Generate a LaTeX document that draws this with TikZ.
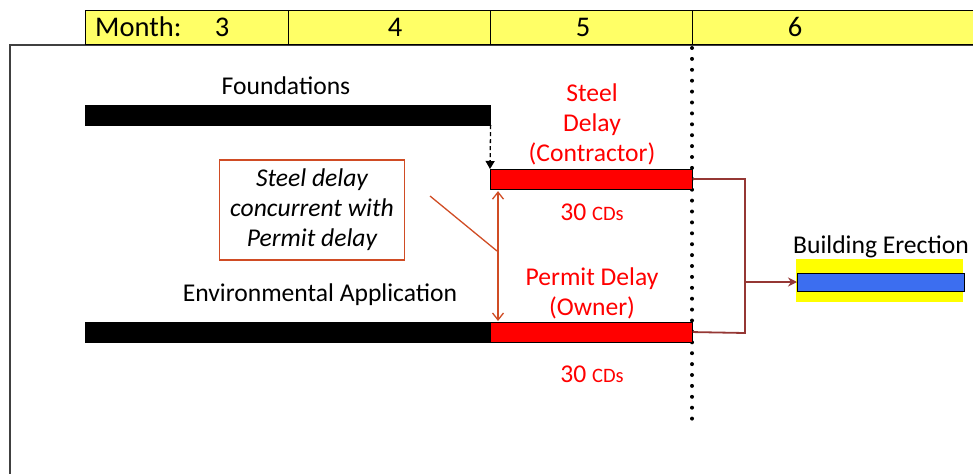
\documentclass[tikz,border=0pt]{standalone}
\usepackage{fontspec}
\setmainfont{Carlito}
\usetikzlibrary{arrows.meta}
\definecolor{hdr}{RGB}{255,255,102}
\definecolor{callc}{RGB}{208,76,36}
\definecolor{connc}{RGB}{149,55,52}
\definecolor{barblue}{RGB}{60,110,240}
\definecolor{ylw}{RGB}{255,255,0}
\begin{document}
\begin{tikzpicture}[x=1pt,y=-1pt,
  bar/.style={draw=black, line width=0.6pt, inner sep=0pt, anchor=north west, minimum height=19.5pt},
  blk/.style={bar, fill=black},
  redbar/.style={bar, fill=red},
  lbl/.style={font=\fontsize{25.6}{30}\selectfont, inner sep=0pt, align=center},
  redlbl/.style={lbl, text=red},
  hdrtxt/.style={font=\fontsize{28.5}{30}\selectfont, inner sep=0pt},
  conn/.style={draw=connc, line width=1.8pt},
  callline/.style={draw=callc, line width=1.3pt}]
\useasboundingbox (0,0) rectangle (973,474);
% frame
\draw[line width=1.4pt, draw=black!75] (973,45) -- (10,45) -- (10,474);
% header
\fill[hdr] (85,10) rectangle (973,44);
\draw[line width=0.9pt] (973,10) -- (85,10) -- (85,44) -- (973,44);
\draw[line width=0.9pt] (288,10) -- (288,44) (490,10) -- (490,44) (692,10) -- (692,44);
\node[hdrtxt, anchor=west] (hm) at (95,27) {Month:};
\node[hdrtxt] (h3) at (222,27) {3};
\node[hdrtxt] (h4) at (395,27) {4};
\node[hdrtxt] (h5) at (583,27) {5};
\node[hdrtxt] (h6) at (795,27) {6};
% dotted line
\coordinate (dtop) at (692,48);
\coordinate (dbot) at (692,420);
\draw[line width=4pt, line cap=round, dash pattern=on 0pt off 10.9pt] (dtop) -- (dbot);
% bars
\node[blk, minimum width=405pt] (fnd) at (85,105) {};
\node[redbar, minimum width=202pt] (steel) at (490,169) {};
\node[blk, minimum width=405pt] (env) at (85,322) {};
\node[redbar, minimum width=202pt] (permit) at (490,322) {};
% labels
\node[lbl] (lfnd) at (286,86) {Foundations};
\node[lbl] (lenv) at (320,295) {Environmental Application};
\node[redlbl] (lsteel) at (592,124) {Steel\\Delay\\(Contractor)};
\node[redlbl] (lcd1) at (592,212) {30 {\fontsize{20.5}{22}\selectfont CDs}};
\node[redlbl] (lperm) at (592,293) {Permit Delay\\(Owner)};
\node[redlbl] (lcd2) at (592,374) {30 {\fontsize{20.5}{22}\selectfont CDs}};
% dashed arrow
\draw[line width=1.3pt, dash pattern=on 4pt off 3pt, -{Triangle[length=8pt,width=9pt]}] (fnd.south east) -- (steel.north west);
% callout
\node[draw=callc, line width=1.3pt, minimum width=185pt, minimum height=100pt, inner sep=0pt,
      font=\fontsize{25.6}{30}\selectfont\itshape, align=center] (call) at (312,210)
      {Steel delay\\concurrent with\\Permit delay};
\coordinate (ptrA) at (430,196);
\coordinate (ptrB) at (497,251);
\draw[callline, {Straight Barb[length=7pt,width=11pt]}-{Straight Barb[length=7pt,width=11pt]}]
  ([xshift=8pt,yshift=-2pt]steel.south west) -- ([xshift=8pt,yshift=1pt]permit.north west);
\draw[callline] (ptrA) -- (ptrB);
% building erection
\node[fill=ylw, minimum width=167pt, minimum height=43pt, inner sep=0pt, anchor=north west] (ylbox) at (796,259) {};
\node[draw=black, fill=barblue, line width=0.8pt, minimum width=167pt, minimum height=18pt, inner sep=0pt, anchor=west] (blue) at (797,282) {};
\node[lbl] (lbe) at (881,247) {Building Erection};
% connectors
\coordinate (j1) at (745,179);
\coordinate (j2) at (745,333);
\coordinate (j3) at (745,282);
\draw[conn] (steel.east) -- (j1) -- (j2) -- (permit.east);
\draw[conn, -{Stealth[length=9pt,width=9pt]}] (j3) -- (blue.west);
\end{tikzpicture}
\end{document}
